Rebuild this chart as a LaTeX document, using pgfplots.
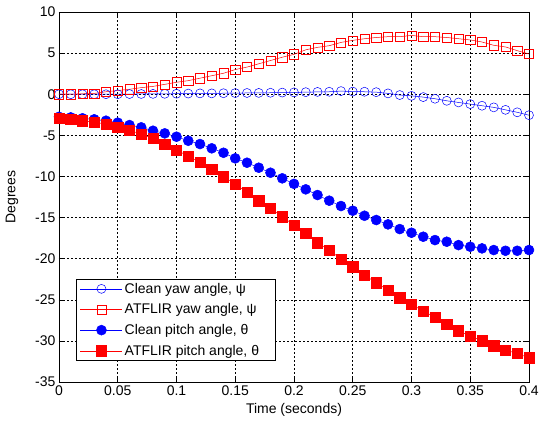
\documentclass[border=0pt]{standalone}
\usepackage{fontspec}
\setmainfont{Liberation Sans}
\usepackage{pgfplots}
\pgfplotsset{compat=1.18}
\begin{document}
\begin{tikzpicture}[font=\fontsize{14}{16}\selectfont]
\useasboundingbox (-59pt,-41pt) rectangle (482pt,382pt);
\begin{axis}[
  at={(0,0)}, anchor=south west,
  scale only axis, width=470pt, height=370pt,
  xmin=0, xmax=0.4, ymin=-35, ymax=10,
  xtick={0,0.05,0.1,0.15,0.2,0.25,0.3,0.35,0.4},
  xticklabels={0,0.05,0.1,0.15,0.2,0.25,0.3,0.35,0.4},
  ytick={-35,-30,-25,-20,-15,-10,-5,0,5,10},
  yticklabels={-35,-30,-25,-20,-15,-10,-5,0,5,10},
  grid=major,
  major grid style={black, line width=0.5pt, dash pattern=on 2pt off 2pt},
  tick align=inside, major tick length=4pt,
  tick style={black, line width=0.5pt},
  axis line style={black, line width=0.6pt},
  xlabel={Time (seconds)}, ylabel={Degrees},
  xlabel style={at={(axis description cs:0.5,-0.0757)}, anchor=center},
  ylabel style={at={(axis description cs:-0.1,0.5)}, anchor=center},
  legend style={at={(0.036,0.057)}, anchor=south west, draw=black, fill=white,
    line width=0.6pt, inner xsep=4pt, inner ysep=2pt, row sep=5pt},
  legend cell align=left,
  legend image code/.code={\draw[mark repeat=2,mark phase=2] plot coordinates {(0pt,0pt) (21pt,0pt) (42pt,0pt)};},
]
\addplot[blue, line width=0.5pt, mark=o, mark size=4.5pt, mark options={line width=0.5pt}] coordinates {
(0,0) (0.01,0.0) (0.02,0.0) (0.03,0.0) (0.04,0.0) (0.05,0.0) (0.06,0.02) (0.07,0.03) (0.08,0.04) (0.09,0.05)
(0.1,0.06) (0.11,0.08) (0.12,0.1) (0.13,0.1) (0.14,0.12) (0.15,0.14) (0.16,0.15) (0.17,0.16) (0.18,0.18) (0.19,0.2)
(0.2,0.22) (0.21,0.25) (0.22,0.28) (0.23,0.3) (0.24,0.38) (0.25,0.32) (0.26,0.3) (0.27,0.25) (0.28,0.1) (0.29,-0.1)
(0.3,-0.2) (0.31,-0.35) (0.32,-0.55) (0.33,-0.8) (0.34,-1.0) (0.35,-1.2) (0.36,-1.4) (0.37,-1.6) (0.38,-1.9) (0.39,-2.2) (0.4,-2.55)};
\addlegendentry{Clean yaw angle, ψ}
\addplot[red, line width=0.5pt, mark=square, mark size=4.6pt, mark options={line width=0.5pt}] coordinates {
(0,0) (0.01,0.0) (0.02,0.05) (0.03,0.1) (0.04,0.3) (0.05,0.45) (0.06,0.6) (0.07,0.8) (0.08,0.95) (0.09,1.2)
(0.1,1.45) (0.11,1.65) (0.12,1.95) (0.13,2.25) (0.14,2.55) (0.15,3.0) (0.16,3.3) (0.17,3.7) (0.18,4.1) (0.19,4.5)
(0.2,4.85) (0.21,5.4) (0.22,5.7) (0.23,5.9) (0.24,6.3) (0.25,6.55) (0.26,6.75) (0.27,6.9) (0.28,7.0) (0.29,7.0)
(0.3,7.15) (0.31,7.0) (0.32,7.0) (0.33,6.9) (0.34,6.75) (0.35,6.6) (0.36,6.35) (0.37,5.95) (0.38,5.75) (0.39,5.3) (0.4,4.9)};
\addlegendentry{ATFLIR yaw angle, ψ}
\addplot[blue, line width=0.5pt, mark=*, mark size=5pt, mark options={fill=blue, draw=blue}] coordinates {
(0,-2.75) (0.01,-2.82) (0.02,-2.93) (0.03,-3.05) (0.04,-3.22) (0.05,-3.46) (0.06,-3.75) (0.07,-4.03) (0.08,-4.44) (0.09,-4.76)
(0.1,-5.17) (0.11,-5.66) (0.12,-6.06) (0.13,-6.58) (0.14,-7.12) (0.15,-7.8) (0.16,-8.33) (0.17,-8.94) (0.18,-9.55) (0.19,-10.23)
(0.2,-10.9) (0.21,-11.57) (0.22,-12.26) (0.23,-12.95) (0.24,-13.6) (0.25,-14.17) (0.26,-14.78) (0.27,-15.3) (0.28,-15.83) (0.29,-16.4)
(0.3,-16.85) (0.31,-17.33) (0.32,-17.74) (0.33,-17.94) (0.34,-18.35) (0.35,-18.55) (0.36,-18.75) (0.37,-18.95) (0.38,-19.04) (0.39,-19.04) (0.4,-18.95)};
\addlegendentry{Clean pitch angle, θ}
\addplot[red, line width=0.5pt, mark=square*, mark size=5.2pt, mark options={fill=red, draw=red}] coordinates {
(0,-2.93) (0.01,-3.05) (0.02,-3.22) (0.03,-3.42) (0.04,-3.62) (0.05,-4.03) (0.06,-4.36) (0.07,-4.88) (0.08,-5.37) (0.09,-6.06)
(0.1,-6.79) (0.11,-7.52) (0.12,-8.29) (0.13,-9.1) (0.14,-10.03) (0.15,-10.92) (0.16,-11.94) (0.17,-12.95) (0.18,-13.88) (0.19,-14.9)
(0.2,-15.91) (0.21,-16.93) (0.22,-18.06) (0.23,-18.95) (0.24,-20.05) (0.25,-20.98) (0.26,-21.99) (0.27,-22.93) (0.28,-23.82) (0.29,-24.75)
(0.3,-25.56) (0.31,-26.37) (0.32,-27.14) (0.33,-27.99) (0.34,-28.77) (0.35,-29.42) (0.36,-29.99) (0.37,-30.6) (0.38,-31.12) (0.39,-31.53) (0.4,-32.06)};
\addlegendentry{ATFLIR pitch angle, θ\hspace*{10pt}}
\end{axis}
\end{tikzpicture}
\end{document}
